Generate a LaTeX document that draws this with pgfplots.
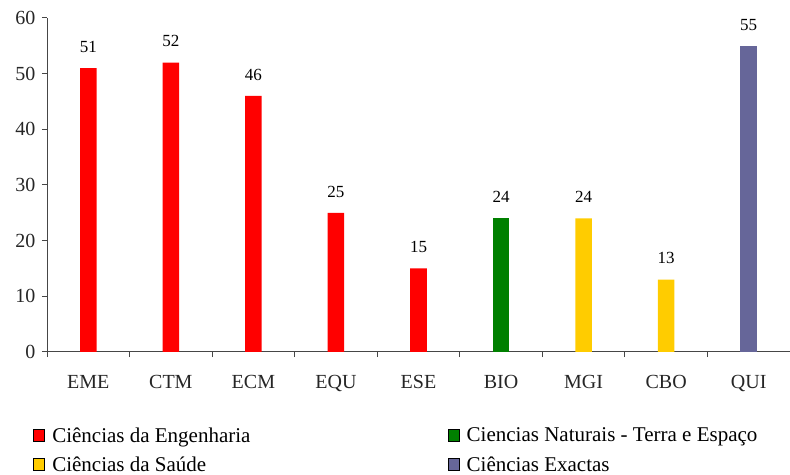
\documentclass[border=0pt]{standalone}
\usepackage{fontspec}
\setmainfont{Liberation Serif}
\usepackage{pgfplots}
\pgfplotsset{compat=1.18}
\definecolor{cEng}{RGB}{255,0,0}
\definecolor{cNat}{RGB}{0,128,0}
\definecolor{cSau}{RGB}{255,204,0}
\definecolor{cExa}{RGB}{102,102,153}
\definecolor{axgray}{RGB}{70,70,70}
\begin{document}
\begin{tikzpicture}
\begin{axis}[
  scale only axis, width=743pt, height=334pt,
  xmin=-0.5, xmax=8.5, ymin=0, ymax=60,
  axis lines*=left,
  axis line style={axgray, line width=1pt},
  every tick/.style={axgray, line width=1pt},
  ytick={0,10,...,60},
  xtick={0,...,8},
  xticklabels={EME,CTM,ECM,EQU,ESE,BIO,MGI,CBO,QUI},
  major x tick style={draw=none},
  minor xtick={-0.5,0.5,...,8.5},
  tick align=outside,
  major tick length=5pt, minor tick length=5pt,
  /pgf/number format/assume math mode=true,
  tick label style={font=\fontsize{20}{20}\selectfont, text=black!85},
  x tick label style={yshift=-15pt},
  y tick label style={xshift=-3pt},
  ybar, bar width=0.2, bar shift=0pt,
  nodes near coords,
  every node near coord/.append style={font=\fontsize{17}{17}\selectfont, text=black, yshift=12pt},
  legend columns=2,
  legend style={draw=none, fill=none, inner sep=0pt, at={(-0.019,-0.22)}, anchor=north west,
    font=\fontsize{21}{21}\selectfont, row sep=9pt,
    /tikz/every odd column/.append style={column sep=5pt},
    /tikz/every even column/.append style={column sep=195pt}},
  legend cell align=left,
  legend image code/.code={\draw[#1, draw=black, line width=1.2pt] (0pt,-6pt) rectangle (11pt,6pt);},
]
\addplot[fill=cEng, draw=none] coordinates {(0,51) (1,52) (2,46) (3,25) (4,15)};
\addlegendentry{Ciências da Engenharia}
\addplot[fill=cNat, draw=none] coordinates {(5,24)};
\addlegendentry{Ciencias Naturais - Terra e Espaço}
\addplot[fill=cSau, draw=none] coordinates {(6,24) (7,13)};
\addlegendentry{Ciências da Saúde}
\addplot[fill=cExa, draw=none] coordinates {(8,55)};
\addlegendentry{Ciências Exactas}
\end{axis}
\pgfresetboundingbox
\path ([shift={(-47pt,-123pt)}]current axis.south west) rectangle ([shift={(0pt,18pt)}]current axis.north east);
\end{tikzpicture}
\end{document}
